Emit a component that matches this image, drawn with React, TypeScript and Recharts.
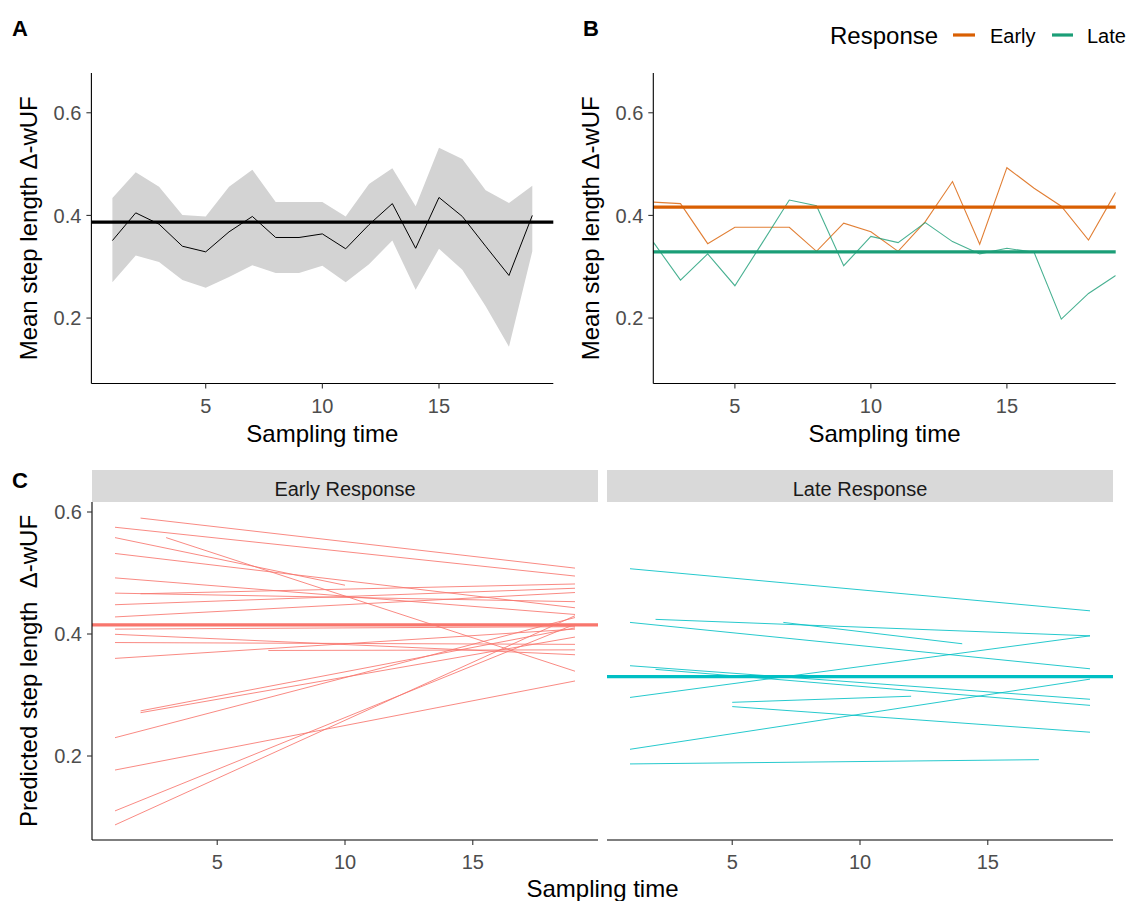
import React from 'react';
import { ComposedChart, LineChart, Line, Area, XAxis, YAxis, ReferenceLine } from 'recharts';

const FONT = '"Liberation Sans", Arial, Helvetica, sans-serif';

// ---------- Panel A ----------
const timeA = [1, 2, 3, 4, 5, 6, 7, 8, 9, 10, 11, 12, 13, 14, 15, 16, 17, 18, 19];
const meanA = [0.351, 0.405, 0.383, 0.340, 0.329, 0.368, 0.398, 0.357, 0.357, 0.364, 0.335, 0.382, 0.423, 0.336, 0.435, 0.398, 0.340, 0.283, 0.400];
const upperA = [0.434, 0.484, 0.456, 0.401, 0.398, 0.456, 0.489, 0.426, 0.426, 0.426, 0.398, 0.461, 0.492, 0.418, 0.532, 0.510, 0.449, 0.424, 0.458];
const lowerA = [0.270, 0.322, 0.309, 0.274, 0.259, 0.280, 0.303, 0.288, 0.288, 0.302, 0.270, 0.305, 0.351, 0.255, 0.335, 0.294, 0.223, 0.144, 0.330];
const overallMeanA = 0.387;

// ---------- Panel B ----------
const timeB = [2, 3, 4, 5, 6, 7, 8, 9, 10, 11, 12, 13, 14, 15, 16, 17, 18, 19];
const earlyB = [0.426, 0.423, 0.345, 0.377, 0.377, 0.377, 0.330, 0.385, 0.368, 0.330, 0.388, 0.466, 0.344, 0.493, 0.453, 0.418, 0.352, 0.445];
const lateB = [0.348, 0.274, 0.325, 0.263, 0.346, 0.430, 0.419, 0.302, 0.359, 0.347, 0.386, 0.349, 0.325, 0.336, 0.328, 0.198, 0.248, 0.283];
const earlyMeanB = 0.416;
const lateMeanB = 0.329;

// ---------- Panel C: per-individual predictions [startTime, startValue, endTime, endValue] ----------
const earlySegments = [
  [2, 0.590, 19, 0.508],
  [1, 0.575, 19, 0.495],
  [1, 0.558, 10, 0.480],
  [3, 0.558, 19, 0.339],
  [1, 0.532, 19, 0.443],
  [1, 0.492, 19, 0.432],
  [1, 0.467, 19, 0.453],
  [2, 0.466, 19, 0.482],
  [1, 0.448, 19, 0.475],
  [1, 0.428, 19, 0.468],
  [1, 0.408, 19, 0.412],
  [1, 0.3995, 19, 0.366],
  [1, 0.386, 19, 0.383],
  [1, 0.360, 19, 0.408],
  [7, 0.373, 19, 0.374],
  [1, 0.230, 19, 0.427],
  [2, 0.274, 19, 0.410],
  [2, 0.271, 19, 0.395],
  [1, 0.177, 19, 0.323],
  [1, 0.110, 19, 0.416],
  [1, 0.087, 19, 0.430],
];
const lateSegments = [
  [1, 0.507, 19, 0.438],
  [1, 0.419, 19, 0.343],
  [2, 0.424, 19, 0.397],
  [7, 0.419, 14, 0.384],
  [1, 0.296, 19, 0.397],
  [1, 0.348, 19, 0.293],
  [2, 0.342, 19, 0.283],
  [5, 0.288, 12, 0.298],
  [5, 0.281, 19, 0.239],
  [1, 0.211, 19, 0.326],
  [1, 0.187, 17, 0.194],
];
const earlyMeanC = 0.415;
const lateMeanC = 0.330;

const xTicks = [5, 10, 15];
const yTicks = [0.2, 0.4, 0.6];

const EARLY_B = '#D95F02';
const LATE_B = '#1B9E77';
const EARLY_C = '#F8766D';
const LATE_C = '#00BFC4';

const dataA = timeA.map((t, i) => ({ t, mean: meanA[i], band: [lowerA[i], upperA[i]] }));
const dataB = timeB.map((t, i) => ({ t, early: earlyB[i], late: lateB[i] }));
const segData = (s: number[]) => [{ t: s[0], v: s[1] }, { t: s[2], v: s[3] }];

const tickStyle = { fontSize: 20, fill: '#4D4D4D', fontFamily: FONT };

const xAxisCommon = {
  type: 'number' as const,
  dataKey: 't',
  ticks: xTicks,
  tick: tickStyle,
  tickSize: 5,
  tickMargin: 10,
  stroke: '#000',
  tickLine: { stroke: '#333', strokeWidth: 1.1 },
  axisLine: { stroke: '#000', strokeWidth: 1.1 },
  height: 48,
  allowDataOverflow: true,
  interval: 0 as const,
};

const yAxisCommon = {
  type: 'number' as const,
  ticks: yTicks,
  tick: tickStyle,
  tickSize: 5,
  tickMargin: 5,
  stroke: '#000',
  tickLine: { stroke: '#333', strokeWidth: 1.1 },
  axisLine: { stroke: '#000', strokeWidth: 1.1 },
  allowDataOverflow: true,
  interval: 0 as const,
  tickFormatter: (v: number) => v.toFixed(1),
};

const domainAB: [number, number] = [0.0725, 0.6775];
const domainC: [number, number] = [0.0623, 0.6164];

export default function App() {
  return (
    <div style={{ position: 'absolute', left: 0, top: 0, width: 1127, height: 901, background: '#fff', fontFamily: FONT }}>
      {/* Panel A */}
      <div style={{ position: 'absolute', left: 0, top: 0 }}>
        <ComposedChart width={560} height={432} data={dataA} margin={{ top: 73, right: 6.7, bottom: 0, left: 0 }}>
          <XAxis {...xAxisCommon} domain={[0.1, 19.9]} height={48.5} />
          <YAxis {...yAxisCommon} domain={domainAB} width={91.4} />
          <Area type="linear" dataKey="band" stroke="none" fill="#D3D3D3" fillOpacity={1} isAnimationActive={false} />
          <Line type="linear" dataKey="mean" stroke="#000" strokeWidth={1} dot={false} isAnimationActive={false} />
          <ReferenceLine y={overallMeanA} stroke="#000" strokeWidth={3.2} />
        </ComposedChart>
      </div>

      {/* Panel B */}
      <div style={{ position: 'absolute', left: 560, top: 0 }}>
        <LineChart width={567} height={432} data={dataB} margin={{ top: 73, right: 11.3, bottom: 0, left: 0 }}>
          <XAxis {...xAxisCommon} domain={[2, 19]} height={48.5} />
          <YAxis {...yAxisCommon} domain={domainAB} width={93.3} />
          <Line type="linear" dataKey="early" stroke={EARLY_B} strokeOpacity={0.8} strokeWidth={1.1} dot={false} isAnimationActive={false} />
          <Line type="linear" dataKey="late" stroke={LATE_B} strokeOpacity={0.8} strokeWidth={1.1} dot={false} isAnimationActive={false} />
          <ReferenceLine y={earlyMeanB} stroke={EARLY_B} strokeWidth={3.2} />
          <ReferenceLine y={lateMeanB} stroke={LATE_B} strokeWidth={3.2} />
        </LineChart>
      </div>

      {/* Panel C - Early facet */}
      <div style={{ position: 'absolute', left: 0, top: 502 }}>
        <LineChart width={600} height={386} margin={{ top: 0, right: 2, bottom: 0, left: 0 }}>
          <XAxis {...xAxisCommon} domain={[0.1, 19.9]} />
          <YAxis {...yAxisCommon} domain={domainC} width={92} />
          {earlySegments.map((s, i) => (
            <Line key={'e' + i} data={segData(s)} type="linear" dataKey="v" stroke={EARLY_C} strokeOpacity={0.85} strokeWidth={1} dot={false} isAnimationActive={false} />
          ))}
          <ReferenceLine y={earlyMeanC} stroke={EARLY_C} strokeWidth={3.2} />
        </LineChart>
      </div>

      {/* Panel C - Late facet */}
      <div style={{ position: 'absolute', left: 607, top: 502 }}>
        <LineChart width={506} height={386} margin={{ top: 0, right: 0, bottom: 0, left: 0 }}>
          <XAxis {...xAxisCommon} domain={[0.1, 19.9]} />
          <YAxis hide type="number" domain={domainC} allowDataOverflow />
          {lateSegments.map((s, i) => (
            <Line key={'l' + i} data={segData(s)} type="linear" dataKey="v" stroke={LATE_C} strokeOpacity={0.85} strokeWidth={1} dot={false} isAnimationActive={false} />
          ))}
          <ReferenceLine y={lateMeanC} stroke={LATE_C} strokeWidth={3.2} />
        </LineChart>
      </div>

      {/* Text overlay */}
      <svg width={1127} height={901} style={{ position: 'absolute', left: 0, top: 0, pointerEvents: 'none' }} fontFamily={FONT}>
        {/* panel tags */}
        <text x={12} y={36} fontSize={22} fontWeight="bold" fill="#000">A</text>
        <text x={583} y={36} fontSize={22} fontWeight="bold" fill="#000">B</text>
        <text x={12} y={488} fontSize={22} fontWeight="bold" fill="#000">C</text>

        {/* legend */}
        <text x={830} y={44} fontSize={24} fill="#000">Response</text>
        <line x1={953} x2={975} y1={35} y2={35} stroke={EARLY_B} strokeWidth={3.2} />
        <text x={990} y={43} fontSize={20} fill="#000">Early</text>
        <line x1={1052} x2={1073} y1={35} y2={35} stroke={LATE_B} strokeWidth={3.2} />
        <text x={1087} y={43} fontSize={20} fill="#000">Late</text>

        {/* axis titles */}
        <text x={322.4} y={441.7} fontSize={24} textAnchor="middle" fill="#000">Sampling time</text>
        <text x={884.5} y={441.7} fontSize={24} textAnchor="middle" fill="#000">Sampling time</text>
        <text x={602.5} y={897} fontSize={24} textAnchor="middle" fill="#000">Sampling time</text>
        <text transform="translate(37,228.3) rotate(-90)" fontSize={24} textAnchor="middle" fill="#000">Mean step length Δ-wUF</text>
        <text transform="translate(599,228.3) rotate(-90)" fontSize={24} textAnchor="middle" fill="#000">Mean step length Δ-wUF</text>
        <text transform="translate(37,671) rotate(-90)" fontSize={24} textAnchor="middle" fill="#000" style={{ whiteSpace: 'pre' }}>{'Predicted step length  Δ-wUF'}</text>

        {/* facet strips */}
        <rect x={92} y={470} width={506} height={32} fill="#D9D9D9" />
        <rect x={607} y={470} width={506} height={32} fill="#D9D9D9" />
        <text x={345} y={496} fontSize={20} textAnchor="middle" fill="#1A1A1A">Early Response</text>
        <text x={860} y={496} fontSize={20} textAnchor="middle" fill="#1A1A1A">Late Response</text>
      </svg>
    </div>
  );
}
